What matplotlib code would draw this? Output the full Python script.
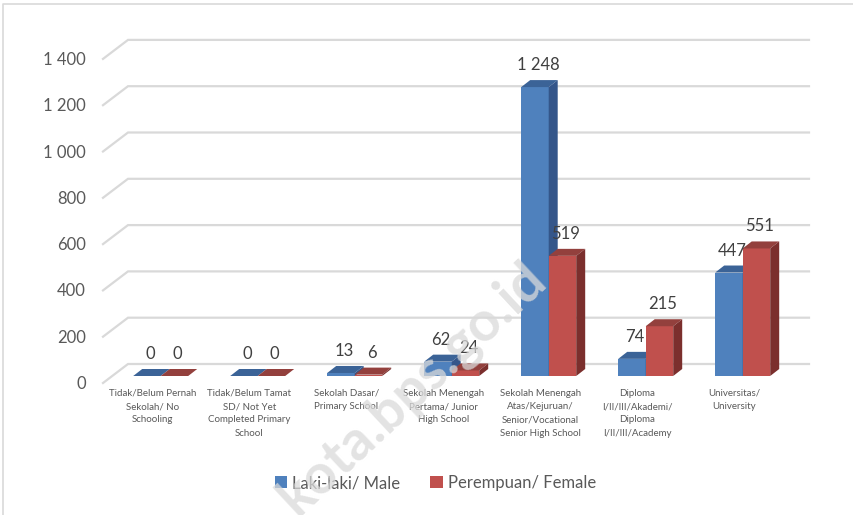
import numpy as np
import matplotlib
matplotlib.use('Agg')
from matplotlib import pyplot as plt
from matplotlib.patches import Polygon, Patch
from matplotlib.lines import Line2D

plt.rcParams['font.family'] = ['Lato', 'DejaVu Sans']

# data
categories = ['Tidak/Belum Pernah\nSekolah/ No\nSchooling',
              'Tidak/Belum Tamat\nSD/ Not Yet\nCompleted Primary\nSchool',
              'Sekolah Dasar/\nPrimary School',
              'Sekolah Menengah\nPertama/ Junior\nHigh School',
              'Sekolah Menengah\nAtas/Kejuruan/\nSenior/Vocational\nSenior High School',
              'Diploma\nI/II/III/Akademi/\nDiploma\nI/II/III/Academy',
              'Universitas/\nUniversity']
male = [0, 0, 13, 62, 1248, 74, 447]
female = [0, 0, 6, 24, 519, 215, 551]
series_names = ['Laki-laki/ Male', 'Perempuan/ Female']
yticks = [0, 200, 400, 600, 800, 1000, 1200, 1400]

# colours
BLUE = ['#4f81bd', '#3b6397', '#34568a']   # front, top, side
RED = ['#c0504d', '#93403d', '#7b2f2d']
GRID = '#d9d9d9'
TXT = '#595959'

W, H = 854, 515
fig = plt.figure(figsize=(W / 100, H / 100), dpi=100)

# axes geometry (pixels)
cat_px = 97.0
ax_left = 103.7
ax_base = 376.0          # pixel row of value 0 (bar front base)
px_per_unit = 0.2315
ymax = 1500
n = len(categories)
ax_w = cat_px * n
ax_h = ymax * px_per_unit
ax = fig.add_axes([ax_left / W, (H - ax_base) / H, ax_w / W, ax_h / H])
ax.set_xlim(-0.5, n - 0.5)
ax.set_ylim(0, ymax)
ax.axis('off')

sx = 1.0 / cat_px        # data x per pixel
sy = 1.0 / px_per_unit   # data y per pixel

# 3D-style gridlines (back wall + left floor diagonal)
x_front = -0.5 - 0.7 * sx
x_back_l = x_front + 25 * sx
x_back_r = x_front + 706 * sx
for v in yticks:
    yb = v + 12 * sy
    yf = v - 7 * sy
    ax.plot([x_front, x_back_l, x_back_r], [yf, yb, yb], color=GRID, lw=1.6,
            solid_joinstyle='miter', clip_on=False, zorder=1)
    ax.annotate(f'{v:,}'.replace(',', ' '), xy=(x_front, yf), xytext=(-17, -1),
                textcoords='offset pixels', ha='right', va='center',
                fontsize=12, color=TXT, annotation_clip=False)

# bars with depth
bw = 27.5 * sx
shift = 8.5 * sx
ddx, ddy = 9 * sx, 7 * sy
x = np.arange(n)


def draw_bar(x0, v, cols):
    x1 = x0 + bw
    ax.add_patch(Polygon([(x0, 0), (x1, 0), (x1, v), (x0, v)], closed=True,
                         fc=cols[0], ec='none', zorder=3, clip_on=False))
    ax.add_patch(Polygon([(x0, v), (x1, v), (x1 + ddx, v + ddy), (x0 + ddx, v + ddy)],
                         closed=True, fc=cols[1], ec='none', zorder=3, clip_on=False))
    ax.add_patch(Polygon([(x1, 0), (x1 + ddx, ddy), (x1 + ddx, v + ddy), (x1, v)],
                         closed=True, fc=cols[2], ec='none', zorder=3, clip_on=False))
    ax.annotate(f'{v:,}'.replace(',', ' '), xy=(x0 + bw / 2, v), xytext=(3, 22),
                textcoords='offset pixels', ha='center', va='center',
                fontsize=12, color='#404040', zorder=5, annotation_clip=False)


for i in range(n):
    draw_bar(x[i] + shift - bw, male[i], BLUE)
    draw_bar(x[i] + shift, female[i], RED)

# category labels
for i, lab in enumerate(categories):
    ax.annotate(lab, xy=(x[i], 0), xytext=(0, -13), textcoords='offset pixels',
                ha='center', va='top', fontsize=7, color=TXT, linespacing=1.6,
                multialignment='center', annotation_clip=False)

# legend
handles = [Patch(fc=BLUE[0], ec='none'), Patch(fc=RED[0], ec='none')]
fig.legend(handles, series_names, loc='center', bbox_to_anchor=(0.51, 0.062),
           ncol=2, frameon=False, fontsize=12, labelcolor=TXT,
           handlelength=0.75, handleheight=0.75, handletextpad=0.3,
           columnspacing=1.8)

# watermark (cut by the bottom edge, as in the source image)
fig.text(412 / W, 1 - 388 / H, 'kota.bps.go.id', rotation=43, fontsize=40,
         fontweight='bold', color='#dadada', alpha=0.75, ha='center', va='center',
         rotation_mode='anchor', zorder=10)

# chart area border
fig.add_artist(Line2D([3 / W, 3 / W, 1], [0, 1 - 4 / H, 1 - 4 / H], color=GRID,
                      lw=1.2, transform=fig.transFigure))

fig.savefig('out.png', dpi=100)
